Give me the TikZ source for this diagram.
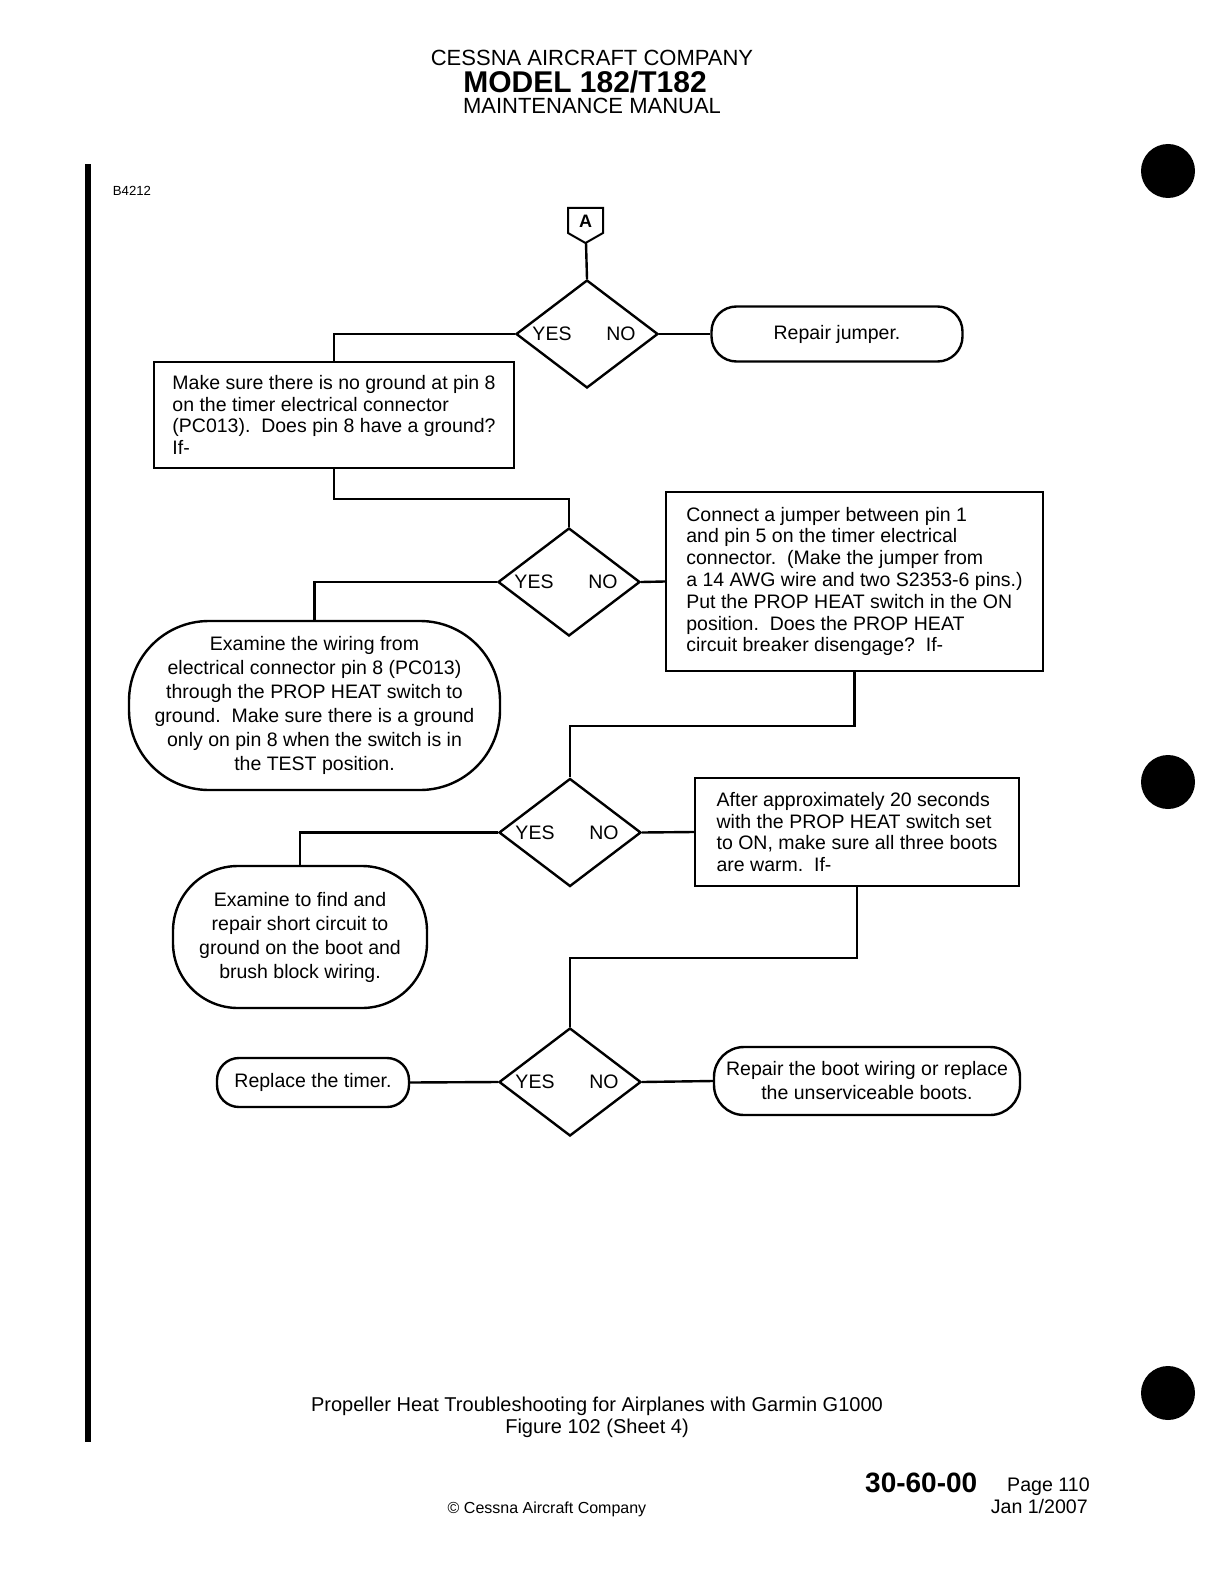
\documentclass[tikz,border=0pt]{standalone}
\usepackage{fontspec}
\setmainfont{Liberation Sans}
\usetikzlibrary{shapes.geometric}

\begin{document}
\begin{tikzpicture}[x=1pt, y=-1pt, line width=2.4pt, every node/.style={text=black}]
  \useasboundingbox (0,0) rectangle (1228,1578);
  \tikzset{stepbox/.style={draw, rectangle, inner sep=0pt, align=left,
            font=\fontsize{19.5}{21.8}\selectfont},
           endcap/.style={draw, rectangle, inner sep=0pt, align=center,
            font=\fontsize{19.5}{24}\selectfont},
           decision/.style={draw, diamond, minimum width=142pt, minimum height=108pt,
            inner sep=0pt},
           answer/.style={font=\fontsize{19.5}{21}\selectfont, inner sep=0pt}}

  % page header, margin bar and punch holes
  \node[font=\fontsize{22}{24}\selectfont] (hdr) at (592,58) {CESSNA AIRCRAFT COMPANY};
  \node[font=\fontsize{30}{32}\selectfont\bfseries] (model) at (585,82) {MODEL 182/T182};
  \node[font=\fontsize{22}{24}\selectfont] (manual) at (592,106) {MAINTENANCE MANUAL};
  \node[font=\fontsize{13.2}{15}\selectfont] (figno) at (132,191) {B4212};
  \fill (85,164) rectangle (91,1442);
  \foreach \y in {171,782,1393}
    \fill (1168,\y) circle (27pt);

  % off-page connector A
  \draw[line width=2pt] (568,208) -- (603,208) -- (603,233) -- (585.5,243) -- (568,233) -- cycle;
  \node[font=\fontsize{18}{20}\selectfont\bfseries] (conA) at (585.5,221) {A};
  \coordinate (conAtip) at (586,243);

  % decisions
  \node[decision] (d1) at (587,334) {};
  \node[decision] (d2) at (569,582) {};
  \node[decision] (d3) at (570,832.5) {};
  \node[decision] (d4) at (570,1082) {};
  \foreach \d in {d1,d2,d3,d4} {
    \node[answer] (\d yes) at ([xshift=-35pt]\d.center) {YES};
    \node[answer] (\d no) at ([xshift=34pt]\d.center) {NO};
  }

  % steps
  \node[stepbox, minimum width=360pt, minimum height=106pt] (chk8) at (334,415)
    {Make sure there is no ground at pin 8\\on the timer electrical connector\\(PC013).~~Does pin 8 have a ground?\\If-};
  \node[stepbox, minimum width=377pt, minimum height=179pt] (jmp) at (854.5,581.5)
    {Connect a jumper between pin 1\\and pin 5 on the timer electrical\\connector.~~(Make the jumper from\\a 14 AWG wire and two S2353-6 pins.)\\Put the PROP HEAT switch in the ON\\position.~~Does the PROP HEAT\\circuit breaker disengage?~~If-};
  \node[stepbox, minimum width=324pt, minimum height=108pt] (warm) at (857,832)
    {After approximately 20 seconds\\with the PROP HEAT switch set\\to ON, make sure all three boots\\are warm.~~If-};

  % end actions
  \node[endcap, minimum width=251pt, minimum height=55pt, rounded corners=25pt] (rj) at (837,334)
    {Repair jumper.};
  \node[endcap, minimum width=371pt, minimum height=169pt, rounded corners=80pt] (ov1) at (314.5,705.5)
    {Examine the wiring from\\electrical connector pin 8 (PC013)\\through the PROP HEAT switch to\\ground.~~Make sure there is a ground\\only on pin 8 when the switch is in\\the TEST position.};
  \node[endcap, minimum width=254pt, minimum height=142pt, rounded corners=65pt] (ov2) at (300,937)
    {Examine to find and\\repair short circuit to\\ground on the boot and\\brush block wiring.};
  \node[endcap, minimum width=192pt, minimum height=49pt, rounded corners=22pt] (timer) at (313,1082.5)
    {Replace the timer.};
  \node[endcap, minimum width=306pt, minimum height=68pt, rounded corners=30pt] (boots) at (867,1081)
    {Repair the boot wiring or replace\\the unserviceable boots.};

  % connectors
  \draw (conAtip) -- (d1.north);
  \draw (d1.west) -| (chk8.north);
  \draw (d1.east) -- (rj.west);
  \draw (chk8.south) -- ++(0,30) -| (d2.north);
  \draw (d2.west) -| (ov1.north);
  \draw (d2.east) -- (jmp.west);
  \draw (jmp.south) -- ++(0,54) -| (d3.north);
  \draw (d3.west) -| (ov2.north);
  \draw (d3.east) -- (warm.west);
  \draw (warm.south) -- ++(0,71) -| (d4.north);
  \draw (d4.west) -- (timer.east);
  \draw (d4.east) -- (boots.west);

  % caption and page footer
  \node[font=\fontsize{20}{22}\selectfont, align=center] (cap) at (597,1417)
    {Propeller Heat Troubleshooting for Airplanes with Garmin G1000\\Figure 102 (Sheet 4)};
  \node[font=\fontsize{28}{30}\selectfont\bfseries, anchor=base west, inner sep=0pt] (sec) at (864,1492) {30-60-00};
  \node[font=\fontsize{19.6}{21}\selectfont, anchor=base west, inner sep=0pt] (pg) at (1006,1491) {Page 110};
  \node[font=\fontsize{19.6}{21}\selectfont, anchor=base east, inner sep=0pt] (date) at (1089,1513) {Jan 1/2007};
  \node[font=\fontsize{16}{18}\selectfont, anchor=base, inner sep=0pt] (copy) at (547,1513)
    {\textcopyright{} Cessna Aircraft Company};
\end{tikzpicture}
\end{document}
